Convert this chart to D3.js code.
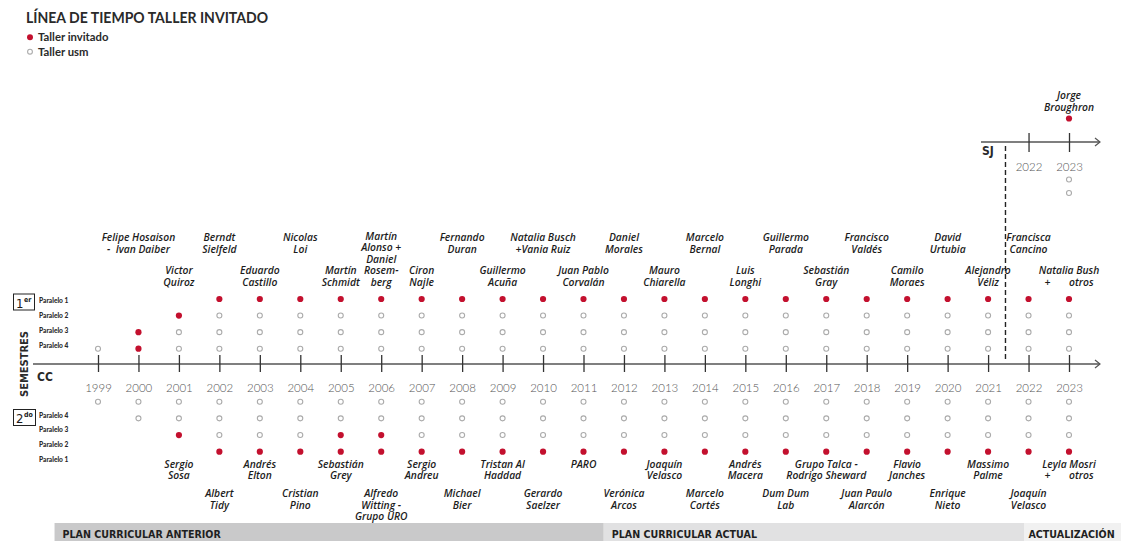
<!DOCTYPE html>
<html><head><meta charset="utf-8">
<script src="https://cdn.jsdelivr.net/npm/d3@7"></script>
<style>
body{margin:0;background:#fff}
svg{display:block}
.nm{font-family:"Open Sans",sans-serif;font-style:italic;font-weight:600;font-size:10.3px;fill:#1c1c1c;white-space:pre}
</style>
</head><body>
<svg id="chart" width="1121" height="541"></svg>
<script>
// ---------- DATA ----------
const title = "LÍNEA DE TIEMPO TALLER INVITADO";
const legendLabels = ["Taller invitado", "Taller usm"];
const years = [1999,2000,2001,2002,2003,2004,2005,2006,2007,2008,2009,2010,2011,2012,2013,2014,2015,2016,2017,2018,2019,2020,2021,2022,2023];
// 0 = sin taller, 1 = taller usm, 2 = taller invitado
const sem1P1 = [0,0,0,2,2,2,2,2,2,2,2,2,2,2,2,2,2,2,2,2,2,2,2,2,2];
const sem1P2 = [0,0,2,1,1,1,1,1,1,1,1,1,1,1,1,1,1,1,1,1,1,1,1,1,1];
const sem1P3 = [0,2,1,1,1,1,1,1,1,1,1,1,1,1,1,1,1,1,1,1,1,1,1,1,1];
const sem1P4 = [1,2,1,1,1,1,1,1,1,1,1,1,1,1,1,1,1,1,1,1,1,1,1,1,1];
const sem2P4 = [1,1,1,1,1,1,1,1,1,1,1,1,1,1,1,1,1,1,1,1,1,1,1,1,1];
const sem2P3 = [0,1,1,1,1,1,1,1,1,1,1,1,1,1,1,1,1,1,1,1,1,1,1,1,1];
const sem2P2 = [0,0,2,1,1,1,2,2,1,1,1,1,1,1,1,1,1,1,1,1,1,1,1,1,1];
const sem2P1 = [0,0,0,2,2,2,2,2,2,2,2,2,2,2,2,2,2,2,2,2,2,2,2,2,2];
const paralelos = ["Paralelo 1","Paralelo 2","Paralelo 3","Paralelo 4"];

const sem1Names = [
  [2000, ["Felipe Hosaison", "-  Ivan Daiber"]],
  [2001, ["Victor", "Quiroz"]],
  [2002, ["Berndt", "Sielfeld"]],
  [2003, ["Eduardo", "Castillo"]],
  [2004, ["Nicolas", "Loi"]],
  [2005, ["Martín", "Schmidt"]],
  [2006, ["Martín", "Alonso +", "Daniel", "Rosem-", "berg"]],
  [2007, ["Ciron", "Najle"]],
  [2008, ["Fernando", "Duran"]],
  [2009, ["Guillermo", "Acuña"]],
  [2010, ["Natalia Busch", "+Vania Ruiz"]],
  [2011, ["Juan Pablo", "Corvalán"]],
  [2012, ["Daniel", "Morales"]],
  [2013, ["Mauro", "Chiarella"]],
  [2014, ["Marcelo", "Bernal"]],
  [2015, ["Luis", "Longhi"]],
  [2016, ["Guillermo", "Parada"]],
  [2017, ["Sebastián", "Gray"]],
  [2018, ["Francisco", "Valdés"]],
  [2019, ["Camilo", "Moraes"]],
  [2020, ["David", "Urtubia"]],
  [2021, ["Alejandro", "Véliz"]],
  [2022, ["Francisca", "Cancino"]],
  [2023, ["Natalia Bush", "+       otros"]]
];
const sem2Names = [
  [2001, ["Sergio", "Sosa"]],
  [2002, ["Albert", "Tidy"]],
  [2003, ["Andrés", "Elton"]],
  [2004, ["Cristian", "Pino"]],
  [2005, ["Sebastián", "Grey"]],
  [2006, ["Alfredo", "Witting -", "Grupo URO"]],
  [2007, ["Sergio", "Andreu"]],
  [2008, ["Michael", "Bier"]],
  [2009, ["Tristan Al", "Haddad"]],
  [2010, ["Gerardo", "Saelzer"]],
  [2011, ["PARO"]],
  [2012, ["Verónica", "Arcos"]],
  [2013, ["Joaquín", "Velasco"]],
  [2014, ["Marcelo", "Cortés"]],
  [2015, ["Andrés", "Macera"]],
  [2016, ["Dum Dum", "Lab"]],
  [2017, ["Grupo Talca -", "Rodrigo Sheward"]],
  [2018, ["Juan Paulo", "Alarcón"]],
  [2019, ["Flavio", "Janches"]],
  [2020, ["Enrique", "Nieto"]],
  [2021, ["Massimo", "Palme"]],
  [2022, ["Joaquín", "Velasco"]],
  [2023, ["Leyla Mosri", "+       otros"]]
];
// Sede San Joaquín
const sjYears = [2022, 2023];
const sjSem1P1 = [0, 2];
const sjSem2P4 = [0, 1];
const sjSem2P3 = [0, 1];
const sjNames = [[2023, ["Jorge", "Broughron"]]];
const planLabels = ["PLAN CURRICULAR ANTERIOR", "PLAN CURRICULAR ACTUAL", "ACTUALIZACIÓN"];
const planStart = [1998, 2011.5, 2021.9];
const planEnd = [2011.5, 2021.9, 2025];
const sjStartYear = 2021.43;

// ---------- CHART ----------
const svg = d3.select("#chart");
const RED = "#c3102e", GREY = "#ababab", INK = "#1c1c1c";
const x = d3.scaleLinear().domain([1999, 2023]).range([98, 1069]);
const axisY = 364;
const yUp = d3.scalePoint().domain(paralelos).range([299, 348.7]);
const yDown = d3.scalePoint().domain(paralelos.slice().reverse()).range([401.7, 451.7]);
const yUpLab = d3.scalePoint().domain(paralelos).range([303, 347.5]);
const yDownLab = d3.scalePoint().domain(paralelos.slice().reverse()).range([417.5, 461.5]);

// title
svg.append("text").attr("x", 26).attr("y", 22.5).text(title)
  .attr("font-family", "Lato, sans-serif").attr("font-weight", 700).attr("font-size", 15)
  .attr("fill", "#2a2a2a").attr("textLength", 242).attr("lengthAdjust", "spacingAndGlyphs");

// legend
const leg = svg.append("g");
legendLabels.forEach((l, i) => {
  const cy = 37.3 + i * 14.4;
  if (i === 0) leg.append("circle").attr("cx", 30).attr("cy", cy).attr("r", 3).attr("fill", RED);
  else leg.append("circle").attr("cx", 30).attr("cy", cy).attr("r", 2.4).attr("fill", "#fff").attr("stroke", GREY).attr("stroke-width", 1.1);
  leg.append("text").attr("x", 38).attr("y", cy + 4).text(l)
    .attr("font-family", "Lato, sans-serif").attr("font-weight", 700).attr("font-size", 11.3).attr("fill", "#2a2a2a");
});

// bottom bands
const bands = svg.append("g");
planLabels.forEach((l, i) => {
  const fills = ["#c9c9ca", "#e1e1e2", "#f1f1f1"];
  const x0 = x(planStart[i]) + (i === 0 ? -3 : 0);
  bands.append("rect").attr("x", x0).attr("y", 523).attr("width", x(planEnd[i]) - x0).attr("height", 18).attr("fill", fills[i]);
  bands.append("text").attr("x", x0 + (i === 2 ? 4 : 8)).attr("y", 538).text(l)
    .attr("font-family", "'DejaVu Sans Condensed','DejaVu Sans',sans-serif").attr("font-stretch", "condensed")
    .attr("font-weight", 700).attr("font-size", 10.6).attr("fill", "#1f1f1f");
});

// main axis line + arrow
svg.append("line").attr("x1", 33).attr("x2", 1100).attr("y1", axisY).attr("y2", axisY).attr("stroke", "#555").attr("stroke-width", 1.5);
svg.append("path").attr("d", `M1095,${axisY-4}L1100,${axisY}L1095,${axisY+4}`).attr("fill", "none").attr("stroke", "#555").attr("stroke-width", 1.2);

const axG = svg.append("g").attr("transform", `translate(0,${axisY})`)
  .call(d3.axisBottom(x).tickValues(years).tickFormat(d3.format("d")).tickSize(0));
axG.select(".domain").remove();
axG.selectAll(".tick line").attr("y1", -9).attr("y2", 8).attr("stroke", "#333").attr("stroke-width", 1.3);
axG.selectAll(".tick text").attr("y", 20).attr("font-family", "Lato, sans-serif").attr("font-weight", 300)
  .attr("font-size", 11.5).attr("fill", "#555");

// left labels
svg.append("text").attr("transform", "translate(28,364) rotate(-90)").attr("text-anchor", "middle").text("SEMESTRES")
  .attr("font-family", "'DejaVu Sans Condensed','DejaVu Sans',sans-serif").attr("font-stretch", "condensed")
  .attr("font-weight", 700).attr("font-size", 11).attr("fill", "#2a2a2a");
svg.append("text").attr("x", 37).attr("y", 381).text("CC")
  .attr("font-family", "'DejaVu Sans Condensed','DejaVu Sans',sans-serif").attr("font-stretch", "condensed")
  .attr("font-weight", 700).attr("font-size", 12).attr("fill", "#2a2a2a");

function semBox(y0, big, sup, w) {
  svg.append("rect").attr("x", 13.5).attr("y", y0).attr("width", w).attr("height", 16).attr("fill", "none").attr("stroke", "#222").attr("stroke-width", 1);
  const t = svg.append("text").attr("x", 16).attr("y", y0 + 13.5)
    .attr("font-family", "'DejaVu Sans Condensed','DejaVu Sans',sans-serif").attr("font-stretch", "condensed").attr("fill", "#1a1a1a");
  t.append("tspan").text(big).attr("font-size", 13).attr("font-weight", 400);
  t.append("tspan").text(sup).attr("font-size", 7).attr("dy", -6).attr("dx", 0.5).attr("font-weight", 700);
}
semBox(294, "1", "er", 21);
semBox(409.5, "2", "do", 22);

const parFont = g => g.attr("font-family", "Lato, sans-serif").attr("font-weight", 900).attr("font-size", 6.6).attr("fill", "#2a2a2a");
paralelos.forEach(p => {
  svg.append("text").attr("x", 39).attr("y", yUpLab(p)).text(p).call(parFont);
  svg.append("text").attr("x", 39).attr("y", yDownLab(p)).text(p).call(parFont);
});

// dots
function drawDots(values, xs, yPos) {
  const data = values.map((v, i) => ({ v, yr: xs[i] })).filter(d => d.v > 0);
  svg.append("g").selectAll("circle").data(data).join("circle")
    .attr("cx", d => x(d.yr)).attr("cy", yPos)
    .attr("r", d => d.v === 2 ? 3.1 : 2.5)
    .attr("fill", d => d.v === 2 ? RED : "#fff")
    .attr("stroke", d => d.v === 2 ? "none" : GREY)
    .attr("stroke-width", 1.1);
}
[[sem1P1, "Paralelo 1"], [sem1P2, "Paralelo 2"], [sem1P3, "Paralelo 3"], [sem1P4, "Paralelo 4"]]
  .forEach(([arr, p]) => drawDots(arr, years, yUp(p)));
[[sem2P1, "Paralelo 1"], [sem2P2, "Paralelo 2"], [sem2P3, "Paralelo 3"], [sem2P4, "Paralelo 4"]]
  .forEach(([arr, p]) => drawDots(arr, years, yDown(p)));

// names
const LH = 11.6;
function drawName(yr, lines, firstBaseline) {
  const t = svg.append("text").attr("class", "nm").attr("text-anchor", "middle");
  lines.forEach((l, i) => t.append("tspan").attr("x", x(yr)).attr("y", firstBaseline + i * LH).text(l));
}
sem1Names.forEach(([yr, lines]) => {
  const far = yr % 2 === 0 && lines.length <= 2;
  const lastBase = far ? 253 : 286;
  drawName(yr, lines, lastBase - (lines.length - 1) * LH);
});
sem2Names.forEach(([yr, lines]) => {
  const far = yr % 2 === 0;
  drawName(yr, lines, far ? 497 : 467.5);
});

// San Joaquín timeline
const sjY = 142;
svg.append("line").attr("x1", 981).attr("x2", 1100).attr("y1", sjY).attr("y2", sjY).attr("stroke", "#555").attr("stroke-width", 1.5);
svg.append("path").attr("d", `M1095,${sjY-4}L1100,${sjY}L1095,${sjY+4}`).attr("fill", "none").attr("stroke", "#555").attr("stroke-width", 1.2);
const sjG = svg.append("g").attr("transform", `translate(0,${sjY})`)
  .call(d3.axisBottom(x).tickValues(sjYears).tickFormat(d3.format("d")).tickSize(0));
sjG.select(".domain").remove();
sjG.selectAll(".tick line").attr("y1", -9).attr("y2", 10).attr("stroke", "#333").attr("stroke-width", 1.3);
sjG.selectAll(".tick text").attr("y", 21).attr("font-family", "Lato, sans-serif").attr("font-weight", 300)
  .attr("font-size", 11.5).attr("fill", "#555");
svg.append("text").attr("x", 982).attr("y", 154.5).text("SJ")
  .attr("font-family", "'DejaVu Sans Condensed','DejaVu Sans',sans-serif").attr("font-stretch", "condensed")
  .attr("font-weight", 700).attr("font-size", 12).attr("fill", "#2a2a2a");
svg.append("line").attr("x1", x(sjStartYear)).attr("x2", x(sjStartYear)).attr("y1", 146).attr("y2", 362)
  .attr("stroke", "#222").attr("stroke-width", 1.4).attr("stroke-dasharray", "5,3");
drawDots(sjSem1P1, sjYears, 118.5);
drawDots(sjSem2P4, sjYears, 179.5);
drawDots(sjSem2P3, sjYears, 193);
sjNames.forEach(([yr, lines]) => drawName(yr, lines, 99));
</script>
</body></html>
